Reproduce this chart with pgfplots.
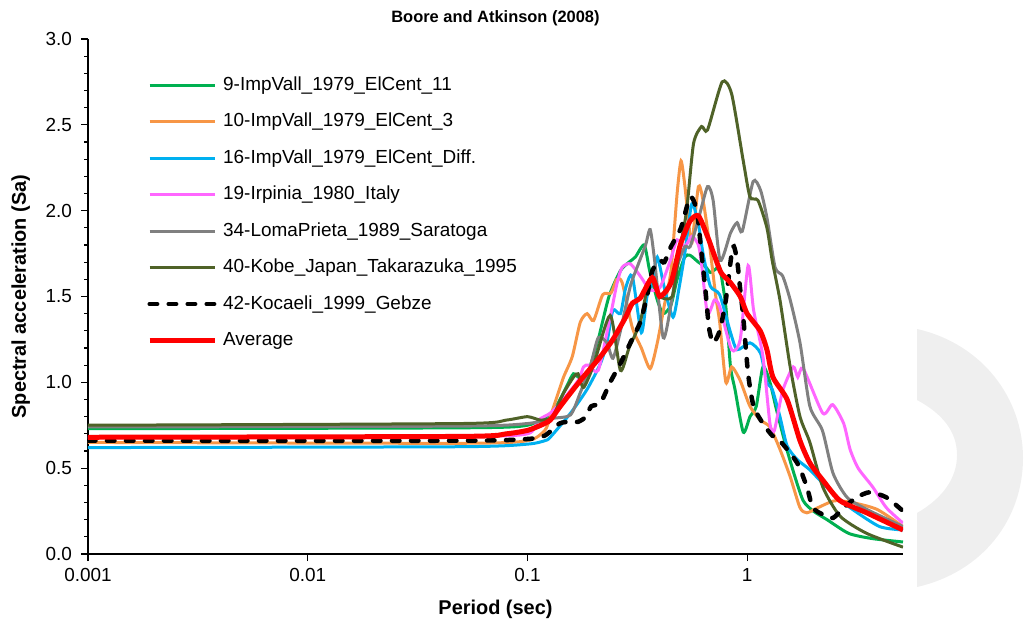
\documentclass[border=0pt]{standalone}
\usepackage{fontspec}
\setmainfont{Liberation Sans}
\usepackage{pgfplots}
\pgfplotsset{compat=1.18}
\definecolor{cGreen}{HTML}{00B050}
\definecolor{cOrange}{HTML}{F79646}
\definecolor{cBlue}{HTML}{00B0F0}
\definecolor{cPink}{HTML}{FF66FF}
\definecolor{cGray}{HTML}{808080}
\definecolor{cOlive}{HTML}{4F6228}
\definecolor{cShade}{HTML}{EFEFEF}
\begin{document}
\begin{tikzpicture}
\useasboundingbox (-88bp,-72bp) rectangle (936bp,554bp);
\fill[cShade] (829bp,225bp) -- (829bp,154bp) .. controls (855bp,140bp) and (869bp,122bp) .. (869bp,99bp) .. controls (869bp,76bp) and (855bp,56bp) .. (829bp,41bp) -- (829bp,-33bp) .. controls (895bp,-18bp) and (935bp,35bp) .. (935bp,96bp) .. controls (935bp,155bp) and (895bp,210bp) .. (829bp,225bp) -- cycle;
\begin{axis}[
  scale only axis, width=815bp, height=515bp,
  xmode=log, xmin=0.001, xmax=5.12, ymin=0, ymax=3,
  axis x line*=bottom, axis y line*=left,
  axis line style={line width=1.2bp, -},
  xtick={0.001,0.01,0.1,1}, xticklabels={0.001,0.01,0.1,1},
  xminorticks=false,
  ytick={0,0.5,1,1.5,2,2.5,3}, yticklabels={0.0,0.5,1.0,1.5,2.0,2.5,3.0},
  minor y tick num=4,
  tick align=outside,
  major tick length=7bp, minor tick length=4bp,
  every tick/.style={black, line width=1.2bp},
  tick label style={font=\fontsize{19}{22}\selectfont},
  yticklabel style={inner sep=0pt, xshift=-9bp},
  xticklabel style={inner sep=0pt, yshift=-7bp},
  title={Boore and Atkinson (2008)},
  title style={font=\bfseries\fontsize{16.5}{19}\selectfont, at={(axis description cs:0.5,1.02)}, anchor=base},
  xlabel={Period (sec)},
  xlabel style={font=\bfseries\fontsize{20}{24}\selectfont, at={(axis description cs:0.5,-0.1165)}, anchor=base},
  ylabel={Spectral acceleration (Sa)},
  ylabel style={font=\bfseries\fontsize{20}{24}\selectfont, at={(axis description cs:-0.0761,0.5)}, anchor=base, rotate=0},
  legend cell align=left,
  legend image code/.code={\draw[#1] (0bp,0bp) -- (65bp,0bp);},
  legend style={at={(axis description cs:0.0724,0.9285)}, anchor=north west, draw=none, fill=none, inner sep=0pt,
    font=\fontsize{19}{22}\selectfont, row sep=18.5bp,
    nodes={inner sep=0pt, text height=14bp, text depth=4bp},
    /tikz/every odd column/.style={column sep=6bp}},
]
\addplot[cGreen, line width=3bp, smooth, tension=0.4] table {
0.001 0.73
0.05 0.735
0.1 0.75
0.13 0.83
0.15 0.97
0.162 1.05
0.175 1.02
0.19 1.07
0.21 1.25
0.235 1.50
0.265 1.65
0.29 1.70
0.31 1.73
0.34 1.80
0.36 1.65
0.39 1.48
0.415 1.40
0.45 1.45
0.48 1.60
0.52 1.73
0.55 1.74
0.60 1.70
0.65 1.67
0.68 1.64
0.72 1.66
0.75 1.67
0.80 1.44
0.84 1.09
0.88 0.96
0.96 0.71
1.03 0.80
1.10 0.86
1.18 1.09
1.27 1.00
1.36 0.84
1.50 0.63
1.65 0.45
1.80 0.31
2.0 0.25
2.31 0.20
2.9 0.12
3.7 0.09
5.12 0.07
};
\addlegendentry{9-ImpVall\_1979\_ElCent\_11}
\addplot[cOrange, line width=3bp, smooth, tension=0.4] table {
0.001 0.65
0.05 0.645
0.1 0.66
0.12 0.72
0.127 0.80
0.135 0.90
0.146 1.03
0.16 1.15
0.174 1.35
0.187 1.40
0.20 1.36
0.22 1.51
0.24 1.52
0.255 1.60
0.27 1.58
0.30 1.32
0.33 1.20
0.362 1.08
0.39 1.23
0.42 1.45
0.45 1.65
0.48 2.10
0.50 2.29
0.52 2.15
0.54 1.95
0.56 1.81
0.60 2.14
0.63 2.06
0.67 1.83
0.72 1.50
0.75 1.35
0.80 1.00
0.85 1.09
0.93 1.01
1.03 0.86
1.15 0.78
1.27 0.74
1.41 0.61
1.57 0.45
1.74 0.27
1.87 0.24
2.1 0.27
2.5 0.31
3.0 0.30
3.9 0.26
5.12 0.16
};
\addlegendentry{10-ImpVall\_1979\_ElCent\_3}
\addplot[cBlue, line width=3bp, smooth, tension=0.4] table {
0.001 0.62
0.05 0.625
0.1 0.64
0.12 0.66
0.127 0.68
0.157 0.82
0.187 0.96
0.215 1.11
0.23 1.23
0.245 1.42
0.265 1.40
0.28 1.55
0.30 1.62
0.33 1.29
0.35 1.50
0.37 1.58
0.39 1.73
0.42 1.55
0.46 1.38
0.49 1.55
0.52 1.75
0.56 2.04
0.60 1.92
0.63 1.75
0.68 1.56
0.75 1.51
0.84 1.29
0.90 1.19
1.03 1.23
1.15 1.17
1.23 1.00
1.30 0.96
1.41 0.80
1.52 0.63
1.69 0.55
1.93 0.49
2.38 0.37
2.94 0.27
4.0 0.16
5.12 0.14
};
\addlegendentry{16-ImpVall\_1979\_ElCent\_Diff.}
\addplot[cPink, line width=3bp, smooth, tension=0.4] table {
0.001 0.68
0.05 0.685
0.1 0.70
0.112 0.78
0.127 0.82
0.141 0.88
0.17 1.01
0.18 1.09
0.19 1.10
0.21 1.07
0.238 1.38
0.256 1.58
0.27 1.67
0.294 1.69
0.33 1.61
0.36 1.54
0.40 1.55
0.447 1.71
0.48 1.83
0.52 1.79
0.56 1.85
0.60 1.80
0.62 1.69
0.66 1.40
0.71 1.48
0.75 1.44
0.85 1.19
0.93 1.25
1.01 1.68
1.07 1.42
1.18 1.15
1.27 0.76
1.33 0.72
1.45 0.95
1.62 1.09
1.70 1.03
1.80 1.08
2.21 0.82
2.45 0.87
2.75 0.76
2.94 0.61
3.2 0.50
3.73 0.39
4.3 0.27
5.12 0.18
};
\addlegendentry{19-Irpinia\_1980\_Italy}
\addplot[cGray, line width=3bp, smooth, tension=0.4] table {
0.001 0.74
0.05 0.745
0.1 0.76
0.13 0.79
0.157 0.81
0.174 0.94
0.193 1.09
0.21 1.26
0.23 1.23
0.245 1.14
0.265 1.30
0.294 1.56
0.32 1.69
0.345 1.80
0.362 1.89
0.38 1.70
0.415 1.26
0.45 1.45
0.48 1.67
0.52 1.79
0.55 1.79
0.60 1.95
0.66 2.14
0.70 2.06
0.754 1.71
0.84 1.87
0.90 1.93
0.95 1.88
1.065 2.17
1.15 2.12
1.23 1.96
1.34 1.67
1.45 1.62
1.57 1.48
1.74 1.23
1.93 0.86
2.2 0.72
2.46 0.47
2.85 0.33
3.5 0.26
5.12 0.16
};
\addlegendentry{34-LomaPrieta\_1989\_Saratoga}
\addplot[cOlive, line width=3bp, smooth, tension=0.4] table {
0.001 0.75
0.05 0.76
0.08 0.78
0.1 0.80
0.115 0.78
0.13 0.80
0.145 0.93
0.162 1.03
0.17 1.05
0.18 0.97
0.20 1.10
0.238 1.39
0.265 1.07
0.29 1.20
0.326 1.35
0.36 1.60
0.40 1.50
0.456 1.50
0.49 1.75
0.53 2.00
0.57 2.39
0.62 2.49
0.66 2.47
0.77 2.75
0.85 2.68
0.96 2.29
1.03 2.08
1.12 2.06
1.23 1.90
1.30 1.71
1.41 1.48
1.57 1.09
1.74 0.80
1.93 0.65
2.21 0.39
2.65 0.22
3.5 0.12
5.12 0.04
};
\addlegendentry{40-Kobe\_Japan\_Takarazuka\_1995}
\addplot[black, line width=4.5bp, line cap=round, dash pattern=on 7.5bp off 11.5bp, smooth, tension=0.4] table {
0.001 0.66
0.05 0.66
0.1 0.67
0.12 0.69
0.14 0.76
0.155 0.77
0.17 0.77
0.185 0.80
0.195 0.86
0.215 0.88
0.238 1.00
0.265 1.11
0.294 1.23
0.326 1.35
0.35 1.50
0.37 1.65
0.40 1.71
0.42 1.70
0.45 1.79
0.50 1.90
0.55 2.08
0.59 2.00
0.62 1.75
0.65 1.50
0.67 1.32
0.70 1.23
0.75 1.30
0.80 1.48
0.86 1.79
0.90 1.71
0.93 1.54
0.96 1.38
1.01 1.05
1.07 0.86
1.18 0.76
1.30 0.69
1.41 0.66
1.69 0.53
1.87 0.39
1.99 0.27
2.21 0.23
2.46 0.21
2.75 0.27
3.15 0.33
3.62 0.36
4.3 0.33
5.12 0.25
};
\addlegendentry{42-Kocaeli\_1999\_Gebze}
\addplot[red, line width=5bp, smooth, tension=0.4] table {
0.001 0.68
0.05 0.685
0.08 0.70
0.1 0.72
0.115 0.75
0.127 0.78
0.141 0.86
0.174 1.01
0.215 1.15
0.245 1.25
0.28 1.38
0.30 1.46
0.326 1.49
0.37 1.61
0.40 1.50
0.45 1.58
0.496 1.80
0.55 1.94
0.60 1.97
0.66 1.85
0.70 1.76
0.76 1.64
0.84 1.58
0.93 1.50
1.0 1.40
1.146 1.30
1.23 1.19
1.31 1.03
1.52 0.90
1.74 0.66
1.93 0.53
2.21 0.43
2.65 0.31
3.5 0.24
5.12 0.14
};
\addlegendentry{Average}
\end{axis}
\end{tikzpicture}
\end{document}
